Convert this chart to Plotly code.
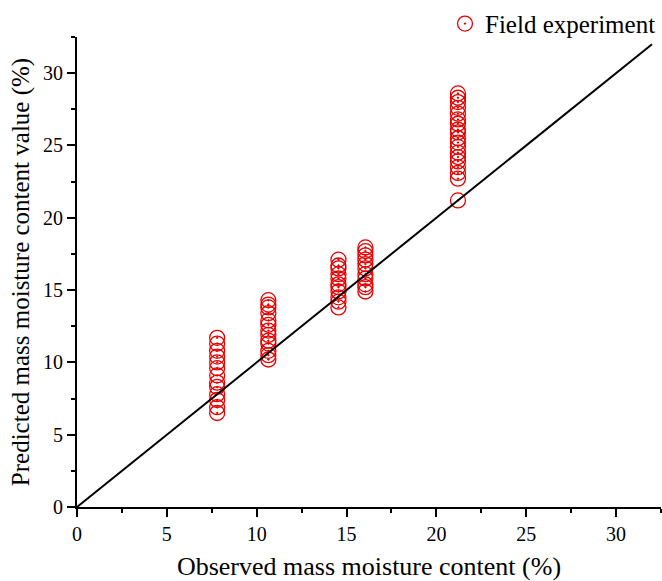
import plotly.graph_objects as go

# Observed mass moisture content (%) for each group of measurements
obs_groups = [7.8, 10.65, 14.55, 16.05, 21.2]
# Predicted mass moisture content values (%) for each group
pred_g1 = [11.7, 11.3, 10.8, 10.4, 10.0, 9.6, 9.1, 8.6, 8.3, 7.8, 7.4, 6.9, 6.5]
pred_g2 = [14.3, 14.0, 13.8, 13.4, 12.9, 12.6, 12.2, 11.9, 11.5, 11.3, 10.8, 10.5, 10.2]
pred_g3 = [17.1, 16.7, 16.5, 16.1, 15.8, 15.4, 15.2, 14.9, 14.5, 14.2, 13.8]
pred_g4 = [17.95, 17.7, 17.4, 17.1, 16.8, 16.5, 16.1, 15.8, 15.4, 15.2, 14.9]
pred_g5 = [28.6, 28.3, 28.0, 27.6, 27.2, 26.8, 26.5, 26.1, 25.9, 25.5, 25.2,
           24.9, 24.5, 24.2, 23.9, 23.5, 23.1, 22.7, 21.2]
pred_groups = [pred_g1, pred_g2, pred_g3, pred_g4, pred_g5]

# 1:1 reference line end points
line_x = [0, 32]
line_y = [0, 32]

xs, ys = [], []
for ox, preds in zip(obs_groups, pred_groups):
    xs += [ox] * len(preds)
    ys += preds

FONT = "Liberation Serif, Times New Roman, serif"
RED = "#e60000"

fig = go.Figure()
fig.add_trace(go.Scatter(
    x=xs, y=ys, mode="markers", name="Field experiment",
    marker=dict(symbol="circle-open-dot", size=15, color=RED,
                line=dict(width=1.3, color=RED)),
))
fig.add_trace(go.Scatter(
    x=line_x, y=line_y, mode="lines", showlegend=False,
    line=dict(color="black", width=2),
))

axis_common = dict(
    range=[0, 32.5], dtick=5, tick0=0,
    showgrid=False, zeroline=False,
    showline=True, linecolor="black", linewidth=2,
    ticks="outside", ticklen=8, tickwidth=2, tickcolor="black",
    tickfont=dict(family=FONT, size=20, color="black"),
    minor=dict(dtick=2.5, ticks="outside", ticklen=4, tickwidth=2, tickcolor="black"),
)

fig.update_layout(
    width=662, height=581,
    margin=dict(l=77, r=1, t=35, b=74),
    paper_bgcolor="white", plot_bgcolor="white",
    font=dict(family=FONT, color="black"),
    xaxis=dict(**axis_common,
               title=dict(text="Observed mass moisture content (%)",
                          font=dict(family=FONT, size=26, color="black"),
                          standoff=18)),
    yaxis=dict(**axis_common,
               title=dict(text="Predicted mass moisture content value (%)",
                          font=dict(family=FONT, size=25, color="black"),
                          standoff=6)),
    legend=dict(x=1, xanchor="right", y=1.028, yanchor="middle",
                font=dict(family=FONT, size=25, color="black"),
                bgcolor="rgba(0,0,0,0)", borderwidth=0),
    showlegend=True,
)

fig.write_html("out.html")
